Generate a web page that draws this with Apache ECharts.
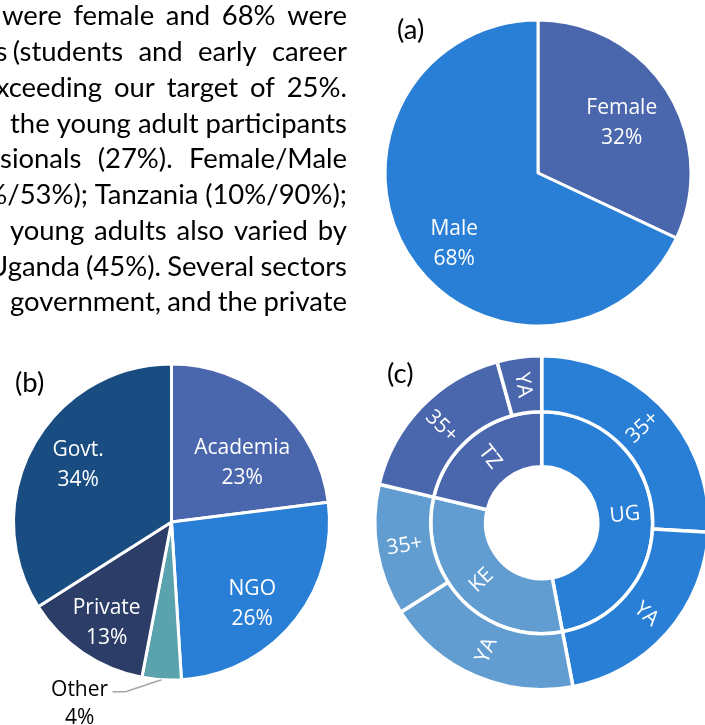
<!DOCTYPE html>
<html>
<head>
<meta charset="utf-8">
<script src="https://cdn.jsdelivr.net/npm/echarts@6/dist/echarts.min.js"></script>
<style>html,body{margin:0;padding:0;background:#fff;}#chart{width:705px;height:725px;}</style>
</head>
<body>
<div id="chart"></div>
<script>
// ---------- data ----------
const genderNames = ['Female', 'Male'];
const genderValues = [32, 68];

const sectorNames = ['Academia', 'NGO', 'Other', 'Private', 'Govt.'];
const sectorValues = [23, 26, 4, 13, 34];

const countryNames = ['UG', 'KE', 'TZ'];
const ageGroupNames = [['35+', 'YA'], ['YA', '35+'], ['35+', 'YA']];
const ageGroupValues = [[25.9, 21.1], [19.0, 12.7], [17.0, 4.3]];

const panelLabels = ['(a)', '(b)', '(c)'];

const paragraphLines = [
  'were female and 68% were',
  'adults (students and early career',
  'exceeding our target of 25%.',
  'the young adult participants',
  'professionals (27%). Female/Male',
  '(47%/53%); Tanzania (10%/90%);',
  'young adults also varied by',
  'Uganda (45%). Several sectors',
  'government, and the private'
];

// ---------- styles / layout ----------
const genderColors = ['#4A66AC', '#297FD5'];
const sectorColors = ['#4A66AC', '#297FD5', '#5AA2AE', '#2C3D67', '#194C80'];
const countryColors = ['#297FD5', '#629DD1', '#4A66AC'];

// label nudges (px) to mimic the original label placement
const genderLabelNudge = [[-7, 8], [7, 13]];
const sectorLabelNudge = [[-2, 24], [-4, 12], [0, 0], [-3, 10], [3, -4]];

// per-line layout: visible anchor x, hidden prefix of first word, cut lead words
const lineLayout = [
  { at: 2 },
  { at: 12.7, lead: 1, leadEnd: 7.5 },
  { at: 9.3, skip: 'ex' },
  { at: 10 },
  { at: 0, skip: 'profes' },
  { at: 7.3, skip: '(47%' },
  { at: 10 },
  { at: 8.3, skip: 'U' },
  { at: 10 }
];
const textRight = 347;
const firstCenter = 16.5;
const lineStep = 35.75;

const ctx = document.createElement('canvas').getContext('2d');
function measure(t, fs) { ctx.font = fs + 'px Lato'; return ctx.measureText(t).width; }
const bodyFs = 30 * 337 / measure('the young adult participants', 30);

const graphics = [];
function addText(t, x, y, align) {
  graphics.push({
    type: 'text', x: x, y: y, silent: true,
    style: { text: t, fill: '#000', font: bodyFs.toFixed(2) + 'px Lato',
      align: align, textAlign: align, verticalAlign: 'middle', textVerticalAlign: 'middle' }
  });
}
paragraphLines.forEach(function (line, i) {
  const lay = lineLayout[i];
  const words = line.split(' ');
  const nLead = lay.lead || 0;
  const leadWords = words.slice(0, nLead);
  const rest = words.slice(nLead);
  const startX = lay.at - (lay.skip ? measure(lay.skip, bodyFs) : 0);
  const widths = rest.map(function (w) { return measure(w, bodyFs); });
  const total = widths.reduce(function (a, b) { return a + b; }, 0);
  const gap = (textRight - startX - total) / (rest.length - 1);
  const y = firstCenter + lineStep * i;
  let x = startX;
  rest.forEach(function (w, k) { addText(w, x, y, 'left'); x += widths[k] + gap; });
  if (leadWords.length) addText(leadWords.join(' '), lay.leadEnd, y, 'right');
});

const panelPos = [[397, 30], [15, 383], [387, 374]];
panelLabels.forEach(function (t, i) {
  graphics.push({
    type: 'text', x: panelPos[i][0], y: panelPos[i][1], silent: true,
    style: { text: t, fill: '#000', font: bodyFs.toFixed(2) + 'px Lato',
      align: 'left', textAlign: 'left', verticalAlign: 'middle', textVerticalAlign: 'middle' }
  });
});

const labelFont = { color: '#fff', fontSize: 21, fontFamily: 'Open Sans', lineHeight: 30 };

function pieData(names, values, colors) {
  return names.map(function (n, i) { return { name: n, value: values[i], itemStyle: { color: colors[i] } }; });
}

const otherIndex = sectorNames.indexOf('Other');
const sectorLabelData = pieData(sectorNames, sectorValues, sectorColors).map(function (d, i) {
  d.itemStyle = { color: 'rgba(0,0,0,0)', borderWidth: 0 };
  if (i === otherIndex) {
    d.label = { position: 'outside', color: '#000', fontSize: 21, fontFamily: 'Open Sans', lineHeight: 28 };
    d.labelLine = { show: true, length: 12, length2: 30, lineStyle: { color: '#A6A6A6', width: 1.5 } };
  }
  return d;
});
const genderLabelData = pieData(genderNames, genderValues, genderColors).map(function (d) {
  d.itemStyle = { color: 'rgba(0,0,0,0)', borderWidth: 0 }; return d;
});

const sunData = countryNames.map(function (c, i) {
  return {
    name: c, itemStyle: { color: countryColors[i] },
    children: ageGroupNames[i].map(function (n, j) {
      return { name: n, value: ageGroupValues[i][j], itemStyle: { color: countryColors[i] } };
    })
  };
});

const chart = echarts.init(document.getElementById('chart'), null, { renderer: 'canvas' });
chart.setOption({
  backgroundColor: '#fff',
  animation: false,
  graphic: { elements: graphics },
  series: [
    { type: 'pie', center: [538, 173], radius: [0, 153], startAngle: 90, clockwise: true,
      silent: true, label: { show: false }, labelLine: { show: false },
      itemStyle: { borderColor: '#fff', borderWidth: 3 },
      data: pieData(genderNames, genderValues, genderColors) },
    { type: 'pie', center: [538, 173], radius: [56, 153], startAngle: 90, clockwise: true,
      silent: true, z: 3,
      label: Object.assign({ position: 'inside', formatter: '{b}\n{d}%' }, labelFont),
      labelLine: { show: false }, data: genderLabelData,
      labelLayout: function (p) {
        const n = genderLabelNudge[p.dataIndex];
        return { dx: n[0], dy: n[1] };
      } },
    { type: 'pie', center: [171.5, 522], radius: [0, 158], startAngle: 90, clockwise: true,
      silent: true, label: { show: false }, labelLine: { show: false },
      itemStyle: { borderColor: '#fff', borderWidth: 3 },
      data: pieData(sectorNames, sectorValues, sectorColors) },
    { type: 'pie', center: [171.5, 522], radius: [56, 158], startAngle: 90, clockwise: true,
      silent: true, z: 3, avoidLabelOverlap: false,
      label: Object.assign({ position: 'inside', formatter: '{b}\n{d}%' }, labelFont),
      labelLine: { show: false }, data: sectorLabelData,
      labelLayout: function (p) {
        if (p.dataIndex !== otherIndex || !p.labelLinePoints) {
          const n = sectorLabelNudge[p.dataIndex];
          return { dx: n[0], dy: n[1] };
        }
        const s = p.labelLinePoints[0];
        const bend = [s[0] - 36, s[1] + 12];
        const end = [bend[0] - 13, bend[1]];
        return { x: end[0] - 33, y: end[1] + 12, align: 'center', verticalAlign: 'middle',
          labelLinePoints: [s, bend, end] };
      } },
    { type: 'sunburst', center: [541.7, 522.7], radius: [56, 167], startAngle: 90,
      sort: null, nodeClick: false, silent: true,
      emphasis: { disabled: true },
      itemStyle: { borderColor: '#fff', borderWidth: 3.5 },
      label: { rotate: 'radial', color: '#fff', fontSize: 21, fontFamily: 'Open Sans' },
      levels: [{}, { r0: 56, r: 111 }, { r0: 111, r: 167 }],
      data: sunData }
  ]
});
</script>
</body>
</html>
